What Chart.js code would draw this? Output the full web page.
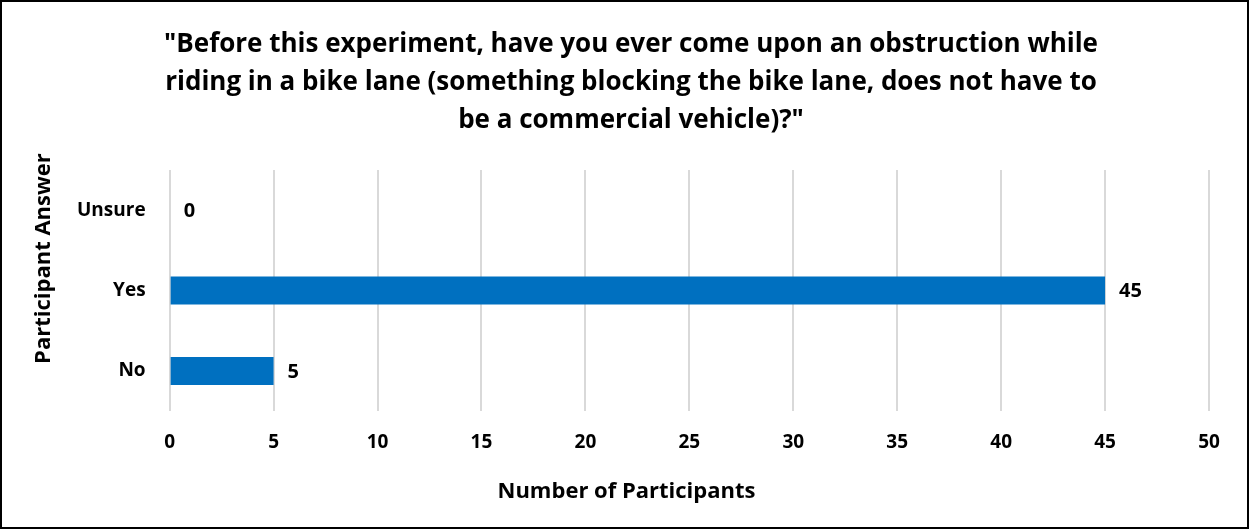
<!DOCTYPE html>
<html>
<head>
<meta charset="utf-8">
<script src="https://cdn.jsdelivr.net/npm/chart.js@4"></script>
<style>
  html, body { margin: 0; padding: 0; background: #fff; }
  #wrap { width: 1249px; height: 529px; box-sizing: border-box; border: 2px solid #000; }
  canvas { display: block; }
</style>
</head>
<body>
<div id="wrap"><canvas id="answerChart" width="1245" height="525"></canvas></div>
<script>
const categories = ['Unsure', 'Yes', 'No'];
const participants = [0, 45, 5];
const titleLines = [
    '"Before this experiment, have you ever come upon an obstruction while',
    'riding in a bike lane (something blocking the bike lane, does not have to',
    'be a commercial vehicle)?"'
];
const xTitle = 'Number of Participants';
const yTitle = 'Participant Answer';

const fontFamily = '"Open Sans", sans-serif';

// value next to each bar, plus both axis titles placed like the original
// (x title centred on the whole picture, y title a bit above centre)
const valueLabels = {
    id: 'valueLabels',
    afterDatasetsDraw(chart) {
        const ctx = chart.ctx;
        const meta = chart.getDatasetMeta(0);
        ctx.save();
        ctx.font = 'bold 20px ' + fontFamily;
        ctx.fillStyle = '#000';
        ctx.textAlign = 'left';
        ctx.textBaseline = 'middle';
        meta.data.forEach((bar, i) => {
            ctx.fillText(String(participants[i]), bar.x + 14, bar.y + 1);
        });

        ctx.font = 'bold 22px ' + fontFamily;
        ctx.textAlign = 'center';
        ctx.fillText(xTitle, chart.width / 2 + 2, chart.height - 35);

        const area = chart.chartArea;
        ctx.translate(42, (area.top + area.bottom) / 2 - 32);
        ctx.rotate(-Math.PI / 2);
        ctx.fillText(yTitle, 0, 0);
        ctx.restore();
    }
};

const answerCtx = document.getElementById('answerChart').getContext('2d');

const answerChart = new Chart(answerCtx, {
    type: 'bar',
    data: {
        labels: categories,
        datasets: [{
            data: participants,
            backgroundColor: '#0070c0',
            barPercentage: 0.35,
            categoryPercentage: 1
        }]
    },
    options: {
        indexAxis: 'y',
        responsive: false,
        animation: false,
        layout: {
            padding: { top: 24, left: 51, right: 38, bottom: 53 }
        },
        plugins: {
            legend: { display: false },
            tooltip: { enabled: false },
            title: {
                display: true,
                text: titleLines,
                color: '#000',
                font: { family: fontFamily, size: 26, weight: 'bold', lineHeight: 1.46 },
                padding: { top: 0, bottom: 30 }
            }
        },
        scales: {
            x: {
                min: 0,
                max: 50,
                ticks: {
                    stepSize: 5,
                    color: '#000',
                    padding: 20,
                    font: { family: fontFamily, size: 19, weight: 'bold' }
                },
                grid: { color: '#d9d9d9', lineWidth: 2, drawTicks: false },
                border: { display: false }
            },
            y: {
                ticks: {
                    color: '#000',
                    padding: 24,
                    font: { family: fontFamily, size: 19, weight: 'bold' }
                },
                grid: { display: false, drawTicks: false },
                border: { display: false }
            }
        }
    },
    plugins: [valueLabels]
});
</script>
</body>
</html>
